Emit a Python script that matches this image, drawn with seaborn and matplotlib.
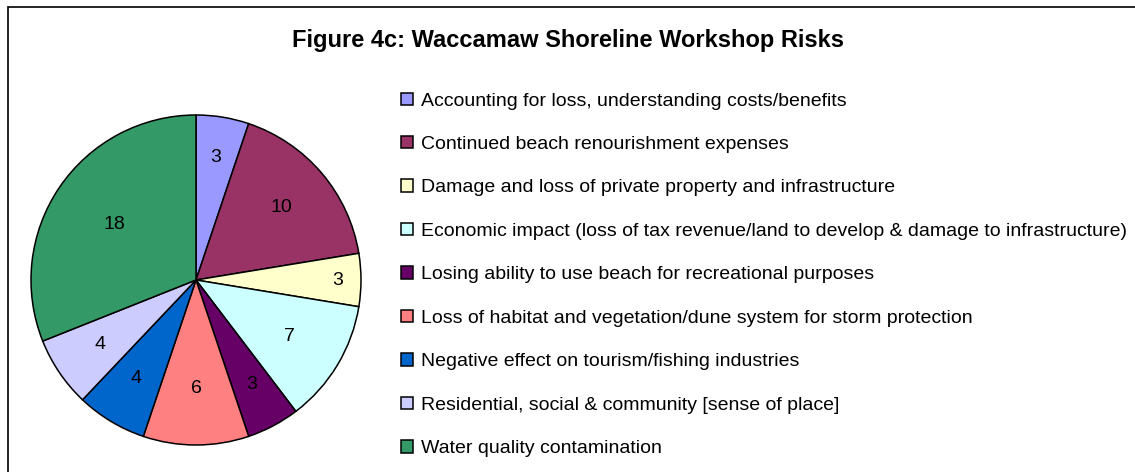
import numpy as np
import matplotlib
matplotlib.use("Agg")
import matplotlib.pyplot as plt
from matplotlib.patches import Rectangle
import seaborn as sns

# === data ===
risks = [
    "Accounting for loss, understanding costs/benefits",
    "Continued beach renourishment expenses",
    "Damage and loss of private property and infrastructure",
    "Economic impact (loss of tax revenue/land to develop & damage to infrastructure)",
    "Losing ability to use beach for recreational purposes",
    "Loss of habitat and vegetation/dune system for storm protection",
    "Negative effect on tourism/fishing industries",
    "Residential, social & community [sense of place]",
    "Water quality contamination",
]
counts = [3, 10, 3, 7, 3, 6, 4, 4, 18]
slice_colors = ["#9999FF", "#993366", "#FFFFCC", "#CCFFFF", "#660066",
                "#FF8080", "#0066CC", "#CCCCFF", "#339966"]

sns.set_theme(style="white")
plt.rcParams["font.family"] = ["Liberation Sans", "DejaVu Sans"]
plt.rcParams["text.color"] = "black"

W, H = 1135, 472
fig = plt.figure(figsize=(W / 100, H / 100), dpi=100)

# pie axes: center (196, 280) px, radius 165 px
r_px = 167
ax = fig.add_axes([(196 - r_px) / W, (H - 280 - r_px) / H, 2 * r_px / W, 2 * r_px / H])
palette = sns.color_palette(slice_colors)
wedges, _ = ax.pie(counts, colors=palette, startangle=90, counterclock=False,
                   wedgeprops=dict(edgecolor="black", linewidth=1.1))
lim = r_px / 165
ax.set_xlim(-lim, lim)
ax.set_ylim(-lim, lim)
ax.set_aspect("equal")
ax.axis("off")

# value labels (distance from center as a fraction of radius)
label_dist = [0.75, 0.68, 0.86, 0.66, 0.72, 0.66, 0.70, 0.70, 0.60]
for w, v, d in zip(wedges, counts, label_dist):
    ang = np.deg2rad((w.theta1 + w.theta2) / 2)
    ax.text(d * np.cos(ang), d * np.sin(ang), str(v), ha="center", va="center",
            fontsize=14, color="black")

fig.text(0.5, 1 - 40 / H, "Figure 4c: Waccamaw Shoreline Workshop Risks",
         ha="center", va="center", fontsize=17, fontweight="bold", color="black")

fig.legend(wedges, risks, loc="upper left",
           bbox_to_anchor=(401 / W, 1 - 92.5 / H), frameon=False, fontsize=14,
           handlelength=0.6, handleheight=0.6, handletextpad=0.45,
           labelspacing=1.36, borderpad=0, borderaxespad=0)

# outer frame
fig.patches.append(Rectangle((8 / W, -0.1), 2, 1 - 7 / H + 0.1, transform=fig.transFigure,
                             fill=False, edgecolor="black", linewidth=1.2))

fig.savefig("out.png", dpi=100)
